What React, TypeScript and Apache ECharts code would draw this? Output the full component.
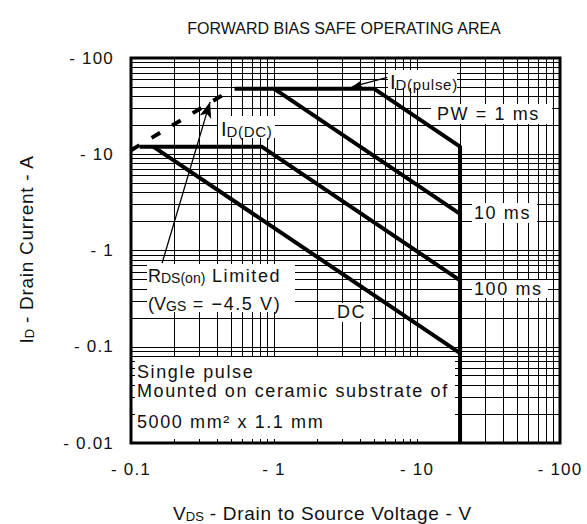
import React, { useEffect, useRef } from 'react';
import * as echarts from 'echarts';

// ---- axis ticks ----
const xTickValues = [0.1, 1, 10, 100];
const xTickLabels = ['- 0.1', '- 1', '- 10', '- 100'];
const yTickValues = [0.01, 0.1, 1, 10, 100];
const yTickLabels = ['- 0.01', '- 0.1', '- 1', '- 10', '- 100'];

// minor grid positions (log paper)
const minorMultipliers = [2, 3, 4, 5, 6, 7, 8, 9];
const xDecades = [0.1, 1, 10];
const yDecades = [0.01, 0.1, 1, 10];

// ---- curves: [VDS (V), ID (A)] ----
const pulse1msLine = [[0.53, 48], [5, 48], [20, 12], [20, 0.01]];
const ms10Line = [[1, 48], [20, 2.4]];
const ms100Line = [[0.115, 12], [0.82, 12], [20, 0.49]];
const dcLine = [[0.143, 12], [20, 0.086]];
const rdsOnLine = [[0.1, 11], [0.52, 48]];

// ---- annotation arrows: [tail, tip] ----
const rdsArrow = [[0.165, 0.74], [0.357, 35]];
const pulseArrow = [[6.2, 63], [3.5, 50]];

const SP = 'Liberation Sans, Arial'; // annotations (letter-spaced)
const TK = 'Liberation Sans, Helvetica'; // tick labels
const NM = 'Liberation Sans, Arimo'; // axis names
const PL = 'Liberation Sans';
const INK = '#111';
const NB = '\u00A0';

const css = `
.sg text[style*="Arial"], .sg text[font-family*="Arial"] { letter-spacing: 1.6px; }
.sg text[style*="Helvetica"], .sg text[font-family*="Helvetica"] { letter-spacing: 1.2px; }
.sg text[style*="Arimo"], .sg text[font-family*="Arimo"] { letter-spacing: 0.7px; }
`;

const minorOf = (decades: number[]) =>
  decades.flatMap((d) => minorMultipliers.map((m) => +(d * m).toPrecision(3)));

const fmt = (values: number[], labels: string[]) => (v: number) => {
  let best = 0;
  let bd = Infinity;
  values.forEach((t, i) => {
    const d = Math.abs(Math.log10(v) - Math.log10(t));
    if (d < bd) {
      bd = d;
      best = i;
    }
  });
  return labels[best];
};

const box = (x: number, y: number, w: number, h: number) => ({
  type: 'rect',
  z: 3,
  silent: true,
  shape: { x, y, width: w, height: h },
  style: { fill: '#fff' },
});

const txt = (x: number, y: number, text: string, extra: any = {}) => ({
  type: 'text',
  x,
  y,
  z: 7,
  silent: true,
  ...(extra.rotation !== undefined ? { rotation: extra.rotation } : {}),
  style: {
    text,
    fill: INK,
    font: `18px ${SP}`,
    align: 'left',
    verticalAlign: 'middle',
    textAlign: 'left',
    textVerticalAlign: 'middle',
    ...(extra.style || {}),
  },
});

// p: plain big letter (no spacing), s: subscript (no spacing), b: spaced text (last token)
// every token is left-anchored so CSS letter-spacing only grows to the right
const richSub = (big: number, small: number, bigFam = SP, lastSize = big) => ({
  p: { fontSize: big, fontFamily: PL, verticalAlign: 'bottom', lineHeight: big + 4, color: INK, align: 'left' },
  s: { fontSize: small, fontFamily: PL, verticalAlign: 'bottom', lineHeight: big + 4, color: INK, align: 'left' },
  b: { fontSize: lastSize, fontFamily: bigFam, verticalAlign: 'bottom', lineHeight: big + 4, color: INK, align: 'left' },
});

const thick = (name: string, data: number[][], dashed = false) => ({
  name,
  type: 'line',
  data,
  symbol: 'none',
  z: 5,
  silent: true,
  clip: true,
  lineStyle: { color: '#000', width: 4, type: dashed ? [10, 14] : 'solid', cap: 'butt' },
});

export default function App() {
  const ref = useRef<HTMLDivElement>(null);
  useEffect(() => {
    document.body.style.margin = '0';
    const chart = echarts.init(ref.current!, null, { renderer: 'svg' });
    const xMinor = minorOf(xDecades);
    const yMinor = minorOf(yDecades);
    const tickLabel = (values: number[], labels: string[], margin: number) => ({
      show: true,
      showMinLabel: true,
      showMaxLabel: true,
      fontSize: 17,
      fontFamily: TK,
      color: INK,
      margin,
      formatter: fmt(values, labels),
    });
    const option: any = {
      animation: false,
      backgroundColor: '#fff',
      grid: {
        left: 131,
        top: 58,
        width: 429,
        height: 385,
        show: true,
        borderColor: '#000',
        borderWidth: 3,
        backgroundColor: 'transparent',
        containLabel: false,
      },
      xAxis: {
        type: 'log',
        logBase: 10,
        min: 0.1,
        max: 100,
        axisLine: { show: false },
        axisTick: { show: false },
        splitLine: { show: true, lineStyle: { color: '#000', width: 1 } },
        axisLabel: tickLabel(xTickValues, xTickLabels, 18),
      },
      yAxis: {
        type: 'log',
        logBase: 10,
        min: 0.01,
        max: 100,
        axisLine: { show: false },
        axisTick: { show: false },
        splitLine: { show: true, lineStyle: { color: '#000', width: 1 } },
        axisLabel: tickLabel(yTickValues, yTickLabels, 17),
      },
      series: [
        {
          name: 'grid',
          type: 'line',
          data: [[0.1, 0.01]],
          symbol: 'none',
          silent: true,
          z: 1,
          lineStyle: { opacity: 0 },
          markLine: {
            z: 1,
            silent: true,
            symbol: ['none', 'none'],
            label: { show: false },
            emphasis: { disabled: true },
            lineStyle: { color: '#000', width: 1, type: 'solid' },
            data: [...xMinor.map((v) => ({ xAxis: v })), ...yMinor.map((v) => ({ yAxis: v }))],
          },
        },
        thick('1 ms', pulse1msLine),
        thick('10 ms', ms10Line),
        thick('100 ms', ms100Line),
        thick('DC', dcLine),
        thick('RDS(on) Limited', rdsOnLine, true),
        {
          name: 'arrows',
          type: 'line',
          data: [[0.1, 0.01]],
          symbol: 'none',
          silent: true,
          z: 6,
          lineStyle: { opacity: 0 },
          markLine: {
            z: 6,
            silent: true,
            symbol: ['none', 'arrow'],
            label: { show: false },
            emphasis: { disabled: true },
            lineStyle: { color: '#000', width: 1.3, type: 'solid' },
            data: [
              [
                { coord: rdsArrow[0], symbolSize: [9, 16] },
                { coord: rdsArrow[1], symbolSize: [9, 16] },
              ],
              [
                { coord: pulseArrow[0], symbolSize: [6, 11] },
                { coord: pulseArrow[1], symbolSize: [6, 11] },
              ],
            ],
          },
        },
      ],
      graphic: {
        elements: [
          // white label backgrounds
          box(388, 70, 69, 18),
          box(431, 104, 121, 20),
          box(218, 116, 57, 22),
          box(472, 203, 65, 20),
          box(472, 280, 76, 18),
          box(334, 303, 38, 19),
          box(147, 264, 148, 48),
          box(135, 357, 320, 82),
          // annotation texts
          txt(390, 80, '{p|I}{b|D(pulse)}', { style: { rich: richSub(20, 15, NM, 15) } }),
          txt(437, 114, 'PW = 1 ms'),
          txt(221, 127, '{p|I}{b|D(DC)}', { style: { rich: richSub(20, 15, NM, 15) } }),
          txt(474, 213, '10 ms'),
          txt(474, 289, '100 ms'),
          txt(337, 312, 'DC'),
          txt(148, 274, `{p|R}{s|DS(on)}{b|${NB}Limited}`, { style: { rich: richSub(18, 14) } }),
          txt(148, 302, `{p|(V}{s|GS}{b|${NB}= \u22124.5 V)}`, { style: { rich: richSub(18, 14) } }),
          txt(137, 372, 'Single pulse'),
          txt(137, 391, 'Mounted on ceramic substrate of'),
          txt(137, 422, '5000 mm\u00B2 x 1.1 mm'),
          // title and axis names
          txt(344, 28, 'FORWARD BIAS SAFE OPERATING AREA', {
            style: { font: `16px ${PL}`, align: 'center', textAlign: 'center' },
          }),
          txt(312, 511, `{p|V}{s|DS}{b|${NB}- Drain to Source Voltage - V}`, {
            style: { align: 'center', textAlign: 'center', rich: richSub(19, 13, NM, 19) },
          }),
          txt(24, 256, `{p|I}{s|D}{b|${NB}- Drain Current - A}`, {
            rotation: Math.PI / 2,
            style: { align: 'center', textAlign: 'center', rich: richSub(19, 13, NM, 19) },
          }),
        ],
      },
    };
    chart.setOption(option);
    return () => chart.dispose();
  }, []);
  return (
    <div className="sg">
      <style>{css}</style>
      <div ref={ref} style={{ width: 587, height: 524 }} />
    </div>
  );
}
